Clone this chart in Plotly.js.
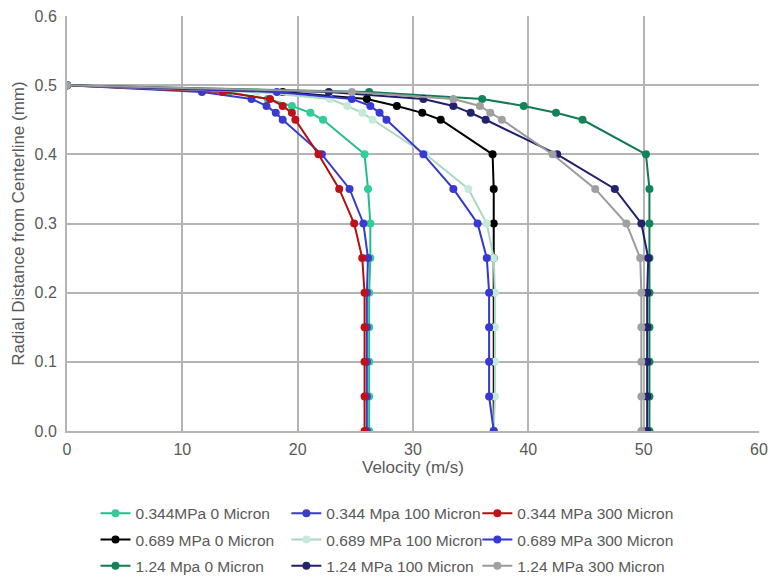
<!DOCTYPE html>
<html>
<head>
<meta charset="utf-8">
<script src="https://cdn.plot.ly/plotly-3.0.1.min.js"></script>
<style>
  html, body { margin: 0; padding: 0; background: #ffffff; }
  #chart { width: 770px; height: 579px; }
</style>
</head>
<body>
<div id="chart"></div>
<script>
// Radial positions (mm) shared by every velocity profile
const radialDistance = [0, 0.05, 0.1, 0.15, 0.2, 0.25, 0.3, 0.35, 0.4, 0.45, 0.46, 0.47, 0.48, 0.49, 0.5];

// Velocity (m/s) at each radial position
const v0344_0   = [26.2, 26.2, 26.2, 26.2, 26.2, 26.3, 26.3, 26.1, 25.8, 22.2, 21.1, 19.5, 17.4, 14.0, 0];
const v0344_100 = [26.0, 26.0, 26.0, 26.0, 26.0, 26.1, 25.7, 24.5, 22.1, 18.7, 18.1, 17.3, 16.0, 11.7, 0];
const v0344_300 = [25.8, 25.8, 25.8, 25.8, 25.8, 25.6, 24.9, 23.6, 21.8, 19.8, 19.5, 18.7, 17.6, 13.5, 0];
const v0689_0   = [37.0, 37.0, 37.0, 37.0, 37.0, 37.0, 37.0, 37.0, 36.9, 32.4, 30.8, 28.6, 26.0, 18.7, 0];
const v0689_100 = [37.0, 37.1, 37.1, 37.1, 37.1, 37.0, 36.4, 34.8, 31.1, 26.5, 25.6, 24.3, 22.8, 16.5, 0];
const v0689_300 = [37.0, 36.6, 36.6, 36.6, 36.6, 36.4, 35.6, 33.5, 30.9, 27.7, 27.1, 26.3, 24.7, 18.2, 0];
const v124_0    = [50.5, 50.5, 50.5, 50.5, 50.5, 50.5, 50.5, 50.5, 50.2, 44.7, 42.4, 39.6, 36.0, 26.2, 0];
const v124_100  = [50.3, 50.3, 50.3, 50.3, 50.3, 50.4, 49.8, 47.5, 42.5, 36.3, 35.0, 33.5, 30.9, 22.7, 0];
const v124_300  = [49.8, 49.8, 49.8, 49.8, 49.8, 49.7, 48.5, 45.8, 42.1, 37.7, 36.7, 35.8, 33.5, 24.7, 0];

const seriesNames = [
  '0.344MPa 0 Micron', '0.344 Mpa 100 Micron', '0.344 MPa 300 Micron',
  '0.689 MPa 0 Micron', '0.689 MPa 100 Micron', '0.689 MPa 300 Micron',
  '1.24 Mpa 0 Micron', '1.24 MPa 100 Micron', '1.24 MPa 300 Micron'
];
const seriesValues = [v0344_0, v0344_100, v0344_300, v0689_0, v0689_100, v0689_300, v124_0, v124_100, v124_300];
const lineColors   = ['#22bf8a', '#3b3bc8', '#b50f12', '#000000', '#aad8c3', '#3535cf', '#127a52', '#1f1f6e', '#9b9b9b'];
const markerColors = ['#2fcf95', '#3b3bd0', '#c0101a', '#000000', '#c4ebd9', '#3838d6', '#12845a', '#22226f', '#a0a0a0'];

// The key is laid out as three columns; each column is its own legend
const legendIds = ['legend', 'legend2', 'legend3'];

const traces = seriesNames.map((name, i) => ({
  type: 'scatter',
  mode: 'lines+markers',
  name: name,
  legend: legendIds[i % 3],
  legendgroup: 'g' + i,
  x: seriesValues[i],
  y: radialDistance,
  line: { color: lineColors[i], width: 2 },
  marker: { color: markerColors[i], size: 8, symbol: 'circle' }
}));

const textColor = '#595959';
const gridColor = '#b4b4b4';

function legendColumn(xPos) {
  return {
    orientation: 'v',
    xref: 'paper',
    yref: 'container',
    x: xPos,
    xanchor: 'left',
    y: 0.142,
    yanchor: 'top',
    itemwidth: 30,
    tracegroupgap: 3,
    font: { size: 15.5, color: textColor },
    bgcolor: 'rgba(0,0,0,0)'
  };
}

const layout = {
  width: 770,
  height: 579,
  paper_bgcolor: '#ffffff',
  plot_bgcolor: '#ffffff',
  margin: { l: 67, r: 11, t: 16, b: 148 },
  font: { family: 'Liberation Sans, Arial, sans-serif', size: 16, color: textColor },
  showlegend: true,
  xaxis: {
    range: [0, 60],
    dtick: 10,
    tick0: 0,
    showgrid: true,
    gridcolor: gridColor,
    gridwidth: 2,
    zeroline: false,
    showline: true,
    linecolor: gridColor,
    linewidth: 2,
    ticks: '',
    ticklabelstandoff: 3,
    tickfont: { size: 16, color: textColor },
    title: { text: 'Velocity (m/s)', font: { size: 17, color: textColor }, standoff: 4 },
    fixedrange: true
  },
  yaxis: {
    range: [0, 0.6],
    dtick: 0.1,
    tick0: 0,
    tickformat: '.1f',
    showgrid: true,
    gridcolor: gridColor,
    gridwidth: 2,
    zeroline: false,
    showline: true,
    linecolor: gridColor,
    linewidth: 2,
    ticks: '',
    ticklabelstandoff: 5,
    tickfont: { size: 16, color: textColor },
    title: { text: 'Radial Distance from Centerline (mm)', font: { size: 17, color: textColor }, standoff: 6 },
    fixedrange: true
  },
  legend: legendColumn(0.0412),
  legend2: legendColumn(0.317),
  legend3: legendColumn(0.593)
};

Plotly.newPlot('chart', traces, layout, { displayModeBar: false, staticPlot: true });
</script>
</body>
</html>
